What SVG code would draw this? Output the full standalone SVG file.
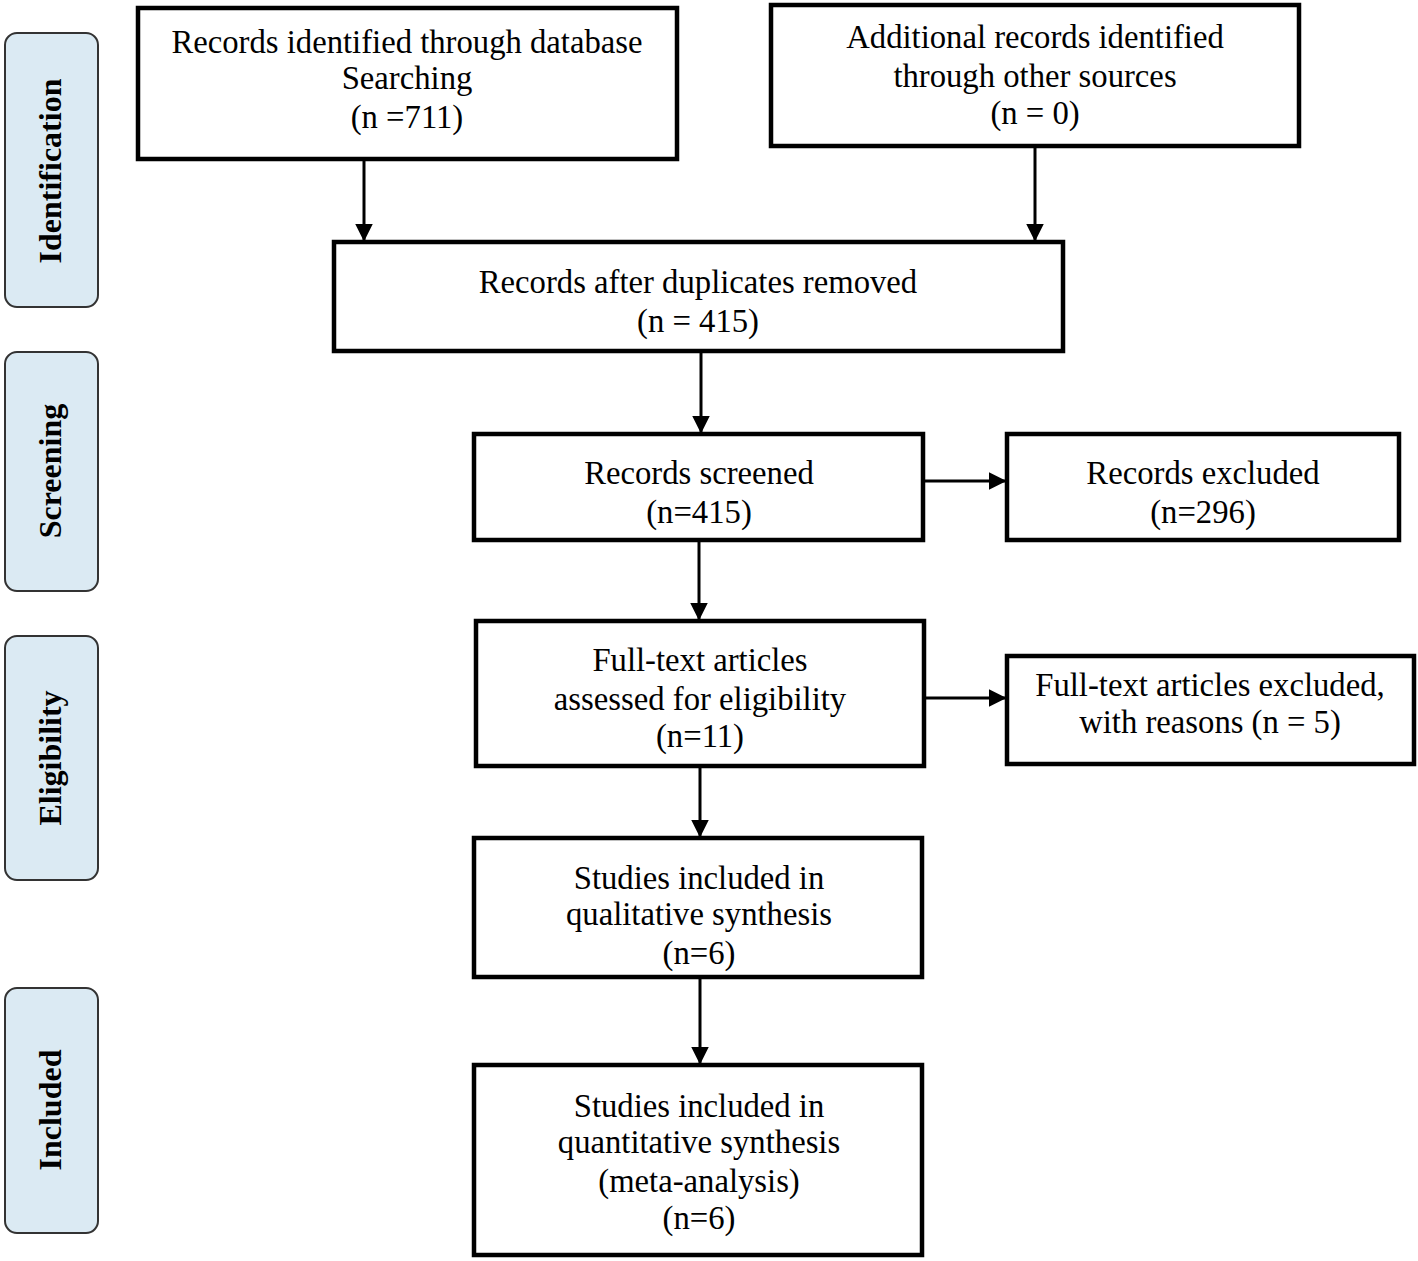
<svg xmlns="http://www.w3.org/2000/svg" width="1418" height="1261" viewBox="0 0 1418 1261">
<style>
.box{fill:#fff;stroke:#000;stroke-width:4.5}
.side{fill:#dbeaf3;stroke:#333;stroke-width:2}
.t{font-family:"Liberation Serif","Times New Roman",serif;font-size:32.7px;fill:#000;text-anchor:middle}
.s{font-family:"Liberation Serif","Times New Roman",serif;font-size:32px;font-weight:bold;fill:#000;text-anchor:middle}
.c{stroke:#000;stroke-width:3;fill:none;marker-end:url(#ah)}
</style>
<defs>
<marker id="ah" markerWidth="6" markerHeight="6" refX="5.5" refY="3" orient="auto" markerUnits="strokeWidth">
<path d="M0,0 L6,3 L0,6 Z" fill="#000"/>
</marker>
</defs>
<rect width="1418" height="1261" fill="#fff"/>
<g id="side-identification"><rect class="side" x="5" y="33" width="93" height="274" rx="12"/><text class="s" transform="translate(61,171) rotate(-90)">Identification</text></g>
<g id="side-screening"><rect class="side" x="5" y="352" width="93" height="239" rx="12"/><text class="s" transform="translate(61,471) rotate(-90)">Screening</text></g>
<g id="side-eligibility"><rect class="side" x="5" y="636" width="93" height="244" rx="12"/><text class="s" transform="translate(61,758) rotate(-90)">Eligibility</text></g>
<g id="side-included"><rect class="side" x="5" y="988" width="93" height="245" rx="12"/><text class="s" transform="translate(61,1110) rotate(-90)">Included</text></g>

<g id="n1"><rect class="box" x="138" y="8" width="539" height="151"/><text class="t" x="407" y="53">Records identified through database</text><text class="t" x="407" y="89">Searching</text><text class="t" x="407" y="128">(n =711)</text></g>
<g id="n2"><rect class="box" x="771" y="5" width="528" height="141"/><text class="t" x="1035" y="48">Additional records identified</text><text class="t" x="1035" y="87">through other sources</text><text class="t" x="1035" y="124">(n = 0)</text></g>
<g id="n3"><rect class="box" x="334" y="242" width="729" height="109"/><text class="t" x="698" y="293">Records after duplicates removed</text><text class="t" x="698" y="332">(n = 415)</text></g>
<g id="n4"><rect class="box" x="474" y="434" width="449" height="106"/><text class="t" x="699" y="484">Records screened</text><text class="t" x="699" y="523">(n=415)</text></g>
<g id="n5"><rect class="box" x="1007" y="434" width="392" height="106"/><text class="t" x="1203" y="484">Records excluded</text><text class="t" x="1203" y="523">(n=296)</text></g>
<g id="n6"><rect class="box" x="476" y="621" width="448" height="145"/><text class="t" x="700" y="671">Full-text articles</text><text class="t" x="700" y="710">assessed for eligibility</text><text class="t" x="700" y="747">(n=11)</text></g>
<g id="n7"><rect class="box" x="1007" y="656" width="407" height="108"/><text class="t" x="1210" y="696">Full-text articles excluded,</text><text class="t" x="1210" y="733">with reasons (n = 5)</text></g>
<g id="n8"><rect class="box" x="474" y="838" width="448" height="139"/><text class="t" x="699" y="889">Studies included in</text><text class="t" x="699" y="925">qualitative synthesis</text><text class="t" x="699" y="964">(n=6)</text></g>
<g id="n9"><rect class="box" x="474" y="1065" width="448" height="190"/><text class="t" x="699" y="1117">Studies included in</text><text class="t" x="699" y="1153">quantitative synthesis</text><text class="t" x="699" y="1192">(meta-analysis)</text><text class="t" x="699" y="1229">(n=6)</text></g>

<g id="connectors">
<line class="c" x1="364" y1="161" x2="364" y2="240"/>
<line class="c" x1="1035" y1="148" x2="1035" y2="240"/>
<line class="c" x1="701" y1="353" x2="701" y2="432"/>
<line class="c" x1="699" y1="542" x2="699" y2="619"/>
<line class="c" x1="700" y1="768" x2="700" y2="836"/>
<line class="c" x1="700" y1="979" x2="700" y2="1063"/>
<line class="c" x1="925" y1="481" x2="1005" y2="481"/>
<line class="c" x1="926" y1="698" x2="1005" y2="698"/>
</g>
</svg>
